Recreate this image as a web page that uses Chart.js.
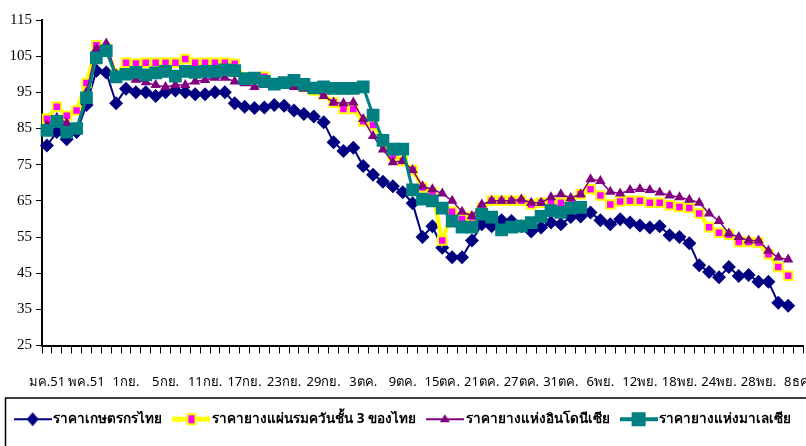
<!DOCTYPE html>
<html>
<head>
<meta charset="utf-8">
<script src="https://cdn.jsdelivr.net/npm/chart.js@4.4.1/dist/chart.umd.min.js"></script>
<style>
html, body { margin: 0; padding: 0; overflow: hidden; background: #fff; }
#wrap { width: 812px; height: 446px; position: relative; }
</style>
</head>
<body>
<div id="wrap"><canvas id="myChart"></canvas></div>
<script>
// tick labels, one every 4 categories
let tickNames = ['มค.51', 'พค.51', '1กย.', '5กย.', '11กย.', '17กย.', '23กย.', '29กย.', '3ตค.', '9ตค.',
    '15ตค.', '21ตค.', '27ตค.', '31ตค.', '6พย.', '12พย.', '18พย.', '24พย.', '28พย.', '8ธค.'];
let tickEvery = 4;
let catCount = 77;

// series
let thaiFarm = [80.3, 84, 82, 84, 91.5, 101, 100.5, 92, 96, 95,
    95, 94, 95, 95.5, 95, 94.5, 94.5, 95, 95, 92,
    91, 90.7, 90.8, 91.5, 91.3, 90, 89, 88.3, 86.7, 81.2,
    78.8, 79.7, 74.6, 72.2, 70.3, 69, 67.4, 64.3, 55, 58,
    52, 49.4, 49.4, 54, 58.5, 58, 59.6, 59.4, 58, 56.5,
    57.6, 59, 58.5, 60.5, 60.7, 61.8, 59.6, 58.5, 59.9, 59,
    58.2, 57.6, 58, 55.5, 55, 53.3, 47.2, 45.3, 43.9, 46.7,
    44.2, 44.5, 42.6, 42.6, 36.8, 36];
let thaiRss3 = [87.7, 91, 88.5, 90, 97.6, 108, 107, 100, 103.2, 103,
    103.2, 103.2, 103.2, 103.2, 104.2, 103.2, 103.2, 103.2, 103.2, 102.9,
    99, 99, 99.3, 97.5, 97.5, 97.5, 96.5, 95.5, 94.5, 92.2,
    90.4, 90.4, 87, 86, 81.5, 77.5, 76, 73.5, 68.7, 67.3,
    54, 62, 60, 60.5, 63, 65, 65, 65, 65, 64,
    64.5, 64.5, 64.5, 65, 66.8, 68.2, 66.5, 64, 64.8, 65,
    65, 64.5, 64.5, 63.8, 63.3, 63, 61.5, 57.7, 56.2, 55.6,
    53.6, 53.6, 53.4, 50.2, 46.7, 44.3];
let indo = [86, 88, 86.5, 85, 95, 107, 108.5, 100, 100, 98.5,
    97.8, 97, 96.5, 97, 97, 98, 98.4, 99, 99, 98,
    97.5, 96.5, 97, 97, 97, 96.5, 96, 95.5, 94, 92.2,
    92, 92.2, 87.6, 82.9, 79.2, 75.7, 76, 73.5, 69, 68.2,
    67, 65, 62, 60.8, 64, 65, 65, 65, 65.4, 64.5,
    64.5, 66, 66.8, 65.8, 66.8, 71, 70.5, 67.5, 67, 68,
    68.3, 68, 67.3, 66.5, 66, 65.3, 64.5, 61.5, 59.4, 56,
    55, 54, 54, 51.2, 49.3, 48.8];
let malay = [84.5, 87, 84, 85, 93.5, 104.5, 106.5, 99.3, 100, 100.5,
    99.8, 100.4, 100.8, 99.5, 100.8, 100.5, 100.8, 100.8, 101.2, 101,
    98.8, 98.9, 98, 97.3, 97.7, 98.3, 97.2, 96.2, 96.5, 96.1,
    96.1, 96.1, 96.5, 88.7, 81.7, 79.3, 79.3, 68, 65.5, 65,
    63, 59.4, 57.7, 57.7, 61.3, 60.5, 57, 57.7, 58, 59,
    60.7, 62.3, 61.8, 63, 63.2, null, null, null, null, null,
    null, null, null, null, null, null, null, null, null, null,
    null, null, null, null, null, null];

let labels = [];
for (let i = 0; i < catCount; i++) {
    labels.push(i % tickEvery === 0 ? tickNames[i / tickEvery] : '');
}

// small legend swatches: line with the marker in the middle
function swatch(lineColor, lineW, marker) {
    let c = document.createElement('canvas');
    c.width = 38;
    c.height = 16;
    let g = c.getContext('2d');
    g.strokeStyle = lineColor;
    g.lineWidth = lineW;
    g.beginPath();
    g.moveTo(0, 8);
    g.lineTo(38, 8);
    g.stroke();
    marker(g);
    return c;
}
let icons = [
    swatch('#000080', 2, function (g) {
        g.fillStyle = '#000080';
        g.beginPath();
        g.moveTo(19, 1); g.lineTo(25, 8); g.lineTo(19, 15); g.lineTo(13, 8);
        g.fill();
    }),
    swatch('#ffff00', 5, function (g) {
        g.fillStyle = '#ffff00';
        g.fillRect(14, 2, 10, 12);
        g.fillStyle = '#ff00ff';
        g.fillRect(16, 4, 6, 8);
    }),
    swatch('#800080', 2, function (g) {
        g.fillStyle = '#800080';
        g.beginPath();
        g.moveTo(19, 3); g.lineTo(24, 11); g.lineTo(14, 11);
        g.fill();
    }),
    swatch('#008080', 4, function (g) {
        g.fillStyle = '#008080';
        g.fillRect(12, 1, 14, 14);
    })
];

// box round the legend
const legendBox = {
    id: 'legendBox',
    afterDraw(chart) {
        let l = chart.legend;
        let c = chart.ctx;
        c.save();
        c.strokeStyle = '#000';
        c.lineWidth = 1.5;
        c.strokeRect(5.5, l.top + 0.5, chart.width, 100);
        c.restore();
    }
};

var ctx = document.getElementById('myChart').getContext('2d');
var myChart = new Chart(ctx, {
    type: 'line',
    data: {
        labels: labels,
        datasets: [{
            label: 'ราคาเกษตรกรไทย',
            data: thaiFarm,
            borderColor: '#000080',
            backgroundColor: '#000080',
            borderWidth: 2,
            pointStyle: 'rectRot',
            pointRadius: 7,
            pointBorderWidth: 0,
            order: 4
        }, {
            label: 'ราคายางแผ่นรมควันชั้น 3 ของไทย',
            data: thaiRss3,
            borderColor: '#ffff00',
            backgroundColor: '#ff00ff',
            borderWidth: 4,
            pointStyle: 'rect',
            pointRadius: 6,
            pointBackgroundColor: '#ff00ff',
            pointBorderColor: '#ffff00',
            pointBorderWidth: 2,
            order: 3
        }, {
            label: 'ราคายางแห่งอินโดนีเซีย',
            data: indo,
            borderColor: '#800080',
            backgroundColor: '#800080',
            borderWidth: 1.5,
            pointStyle: 'triangle',
            pointRadius: 6,
            pointBorderWidth: 0,
            order: 2
        }, {
            label: 'ราคายางแห่งมาเลเซีย',
            data: malay,
            borderColor: '#008080',
            backgroundColor: '#008080',
            borderWidth: 3,
            pointStyle: 'rect',
            pointRadius: 9,
            pointBorderWidth: 0,
            spanGaps: false,
            order: 1
        }]
    },
    options: {
        responsive: true,
        maintainAspectRatio: false,
        animation: false,
        layout: { padding: { top: 20, right: 2, left: 0, bottom: 10 } },
        plugins: {
            tooltip: { enabled: false },
            legend: {
                position: 'bottom',
                labels: {
                    usePointStyle: true,
                    pointStyleWidth: 28,
                    padding: 15,
                    color: '#000',
                    font: { family: 'Noto Sans, DejaVu Sans, sans-serif', size: 13.5, weight: 'bold' },
                    sort: (a, b) => a.datasetIndex - b.datasetIndex,
                    generateLabels(chart) {
                        let items = Chart.defaults.plugins.legend.labels.generateLabels(chart);
                        items.forEach(it => { it.pointStyle = icons[it.datasetIndex]; });
                        return items;
                    }
                }
            }
        },
        scales: {
            x: {
                offset: true,
                grid: { display: true, drawOnChartArea: false, drawTicks: true, tickLength: 8, color: '#000', offset: true },
                border: { display: true, color: '#000', width: 2 },
                ticks: {
                    autoSkip: false, maxRotation: 0, minRotation: 0, padding: 21, color: '#000',
                    font: { family: 'Noto Sans, DejaVu Sans, sans-serif', size: 13 }
                },
                afterFit(s) { s.height = 52; s.paddingLeft = 0; s.paddingRight = 0; }
            },
            y: {
                min: 25,
                max: 115,
                grid: { display: true, drawOnChartArea: false, drawTicks: true, tickLength: 6, color: '#000' },
                border: { display: true, color: '#000', width: 2 },
                ticks: {
                    stepSize: 10, padding: 4, color: '#000',
                    font: { family: 'Liberation Serif', size: 15 }
                },
                afterFit(s) { s.width = 42; }
            }
        }
    },
    plugins: [legendBox]
});
</script>
</body>
</html>
